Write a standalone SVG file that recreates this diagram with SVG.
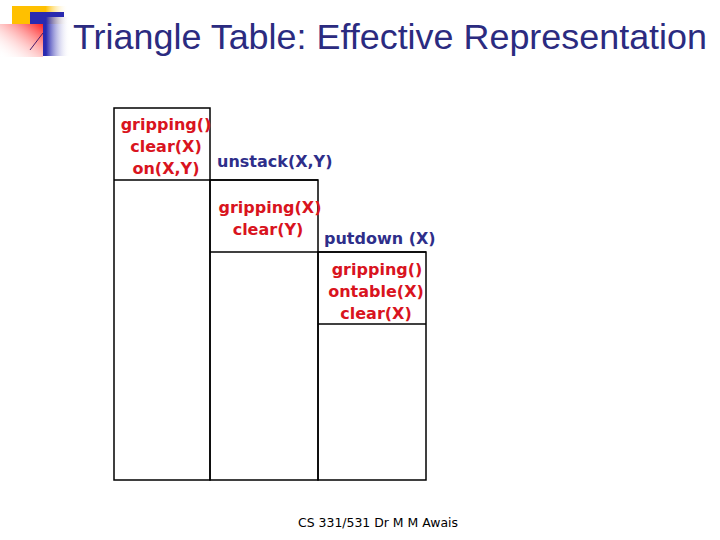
<svg xmlns="http://www.w3.org/2000/svg" width="720" height="540" viewBox="0 0 720 540">
<style>
.cell{fill:none;stroke:#000;stroke-width:1.5}
.red{font-family:"DejaVu Sans",Verdana,sans-serif;font-weight:bold;font-size:16px;fill:#d9141e;text-anchor:middle}
.blue{font-family:"DejaVu Sans",Verdana,sans-serif;font-weight:bold;font-size:16px;fill:#2e2e8a}
.title{font-family:"Liberation Sans",Arial,sans-serif;font-size:35px;fill:#2b2b80}
.foot{font-family:"DejaVu Sans",Tahoma,sans-serif;font-size:13px;fill:#000}
</style>
<defs>
<linearGradient id="gy" x1="0" y1="0" x2="1" y2="0">
<stop offset="0" stop-color="#ffc000"/><stop offset="0.6" stop-color="#ffc000"/><stop offset="1" stop-color="#fff" stop-opacity="0"/>
</linearGradient>
<linearGradient id="gb" x1="0" y1="0" x2="1" y2="0">
<stop offset="0" stop-color="#2a2ab0"/><stop offset="0.4" stop-color="#2a2ab0"/><stop offset="1" stop-color="#fff" stop-opacity="0"/>
</linearGradient>
<linearGradient id="gr" x1="1" y1="0" x2="0" y2="1">
<stop offset="0" stop-color="#ff2020"/><stop offset="1" stop-color="#fff" stop-opacity="0"/>
</linearGradient>
</defs>
<g id="logo">
<rect x="12" y="6" width="56" height="18" fill="url(#gy)"/>
<rect x="30" y="12" width="34" height="5" fill="#2a2ab0"/>
<rect x="30" y="17" width="40" height="39" fill="url(#gb)"/>
<rect x="0" y="24" width="43" height="33" fill="#fff"/>
<rect x="0" y="24" width="43" height="33" fill="url(#gr)"/>
<line x1="30" y1="50" x2="43" y2="33" stroke="#4a1a6a" stroke-width="1"/>
</g>
<text class="title" x="73" y="49" textLength="634" lengthAdjust="spacingAndGlyphs">Triangle Table: Effective Representation</text>
<g id="table">
<rect class="cell" x="114" y="108" width="96" height="372"/>
<line class="cell" x1="114" y1="180" x2="318" y2="180"/>
<rect class="cell" x="210" y="180" width="108" height="300"/>
<line class="cell" x1="210" y1="252" x2="426" y2="252"/>
<rect class="cell" x="318" y="252" width="108" height="228"/>
<line class="cell" x1="318" y1="324" x2="426" y2="324"/>
</g>
<g id="cell1">
<text class="red" x="166" y="130">gripping()</text>
<text class="red" x="166" y="152">clear(X)</text>
<text class="red" x="166" y="174">on(X,Y)</text>
</g>
<g id="op1"><text class="blue" x="217" y="167">unstack(X,Y)</text></g>
<g id="cell2">
<text class="red" x="270" y="213">gripping(X)</text>
<text class="red" x="268" y="235">clear(Y)</text>
</g>
<g id="op2"><text class="blue" x="324" y="244">putdown (X)</text></g>
<g id="cell3">
<text class="red" x="377" y="275">gripping()</text>
<text class="red" x="376" y="297">ontable(X)</text>
<text class="red" x="376" y="319">clear(X)</text>
</g>
<text class="foot" x="298" y="527" textLength="160" lengthAdjust="spacingAndGlyphs">CS 331/531 Dr M M Awais</text>
</svg>
